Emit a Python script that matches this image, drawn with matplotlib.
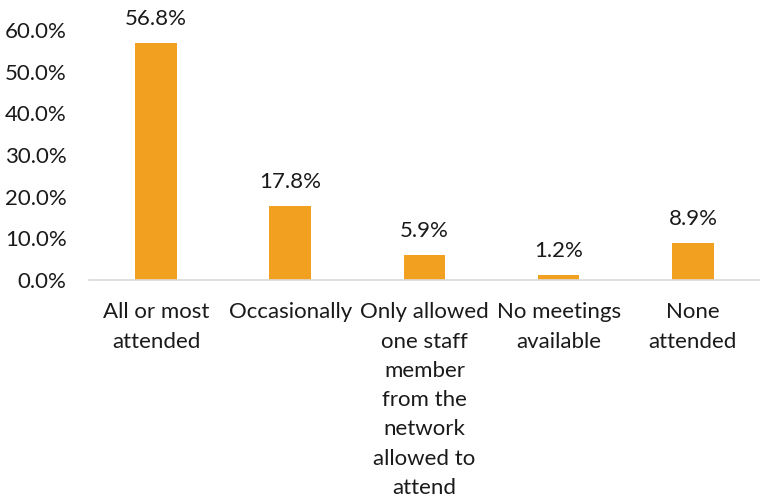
import matplotlib
matplotlib.use("Agg")
import matplotlib.pyplot as plt
from matplotlib.ticker import FuncFormatter

categories = ["All or most\nattended", "Occasionally",
              "Only allowed\none staff\nmember\nfrom the\nnetwork\nallowed to\nattend",
              "No meetings\navailable", "None\nattended"]
values = [56.8, 17.8, 5.9, 1.2, 8.9]
yticks = [0, 10, 20, 30, 40, 50, 60]

plt.rcParams['font.family'] = ['Lato', 'DejaVu Sans']
fig = plt.figure(figsize=(7.6, 5.0), dpi=100)
ax = fig.add_axes([0.117, 0.44, 0.883, 0.50])

x = list(range(len(categories)))
ax.bar(x, values, width=0.31, color="#F2A01F")
for xi, v in zip(x, values):
    ax.text(xi, v + 3.4, f"{v:.1f}%", ha="center", va="bottom", fontsize=16, color="#1a1a1a")

ax.set_xlim(-0.5, len(categories) - 0.5)
ax.set_ylim(0, 60)
ax.set_yticks(yticks)
ax.yaxis.set_major_formatter(FuncFormatter(lambda v, p: f"{v:.1f}%"))
ax.set_xticks(x)
ax.set_xticklabels(categories, fontsize=16, linespacing=1.58, color="#1a1a1a")
ax.tick_params(axis="y", labelsize=16, length=0, pad=16, labelcolor="#1a1a1a")
ax.tick_params(axis="x", length=0, pad=16)
for s in ["top", "right", "left"]:
    ax.spines[s].set_visible(False)
ax.spines["bottom"].set_color("#D9D9D9")
ax.spines["bottom"].set_linewidth(1.2)

fig.savefig("out.png", dpi=100)
